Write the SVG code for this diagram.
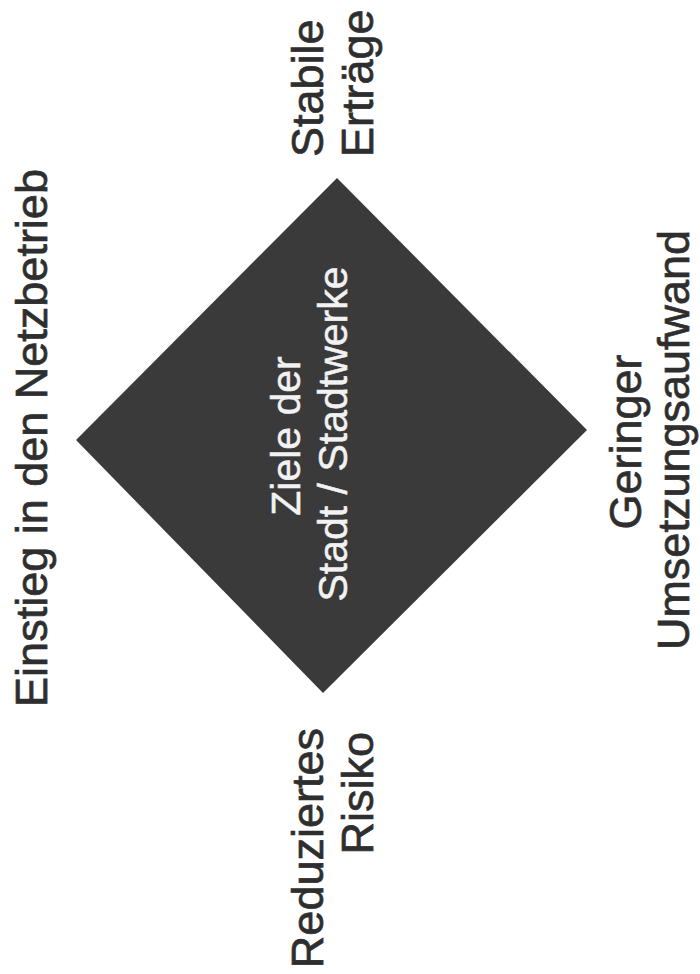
<svg xmlns="http://www.w3.org/2000/svg" width="700" height="974" viewBox="0 0 700 974">
<style>
.lbl{font-family:"Liberation Sans",Arial,sans-serif;font-size:45px;fill:#2e2e2e;stroke:#2e2e2e;stroke-width:0.7px;}
.ctr{font-family:"Liberation Sans",Arial,sans-serif;font-size:41px;fill:#f2f2f2;stroke:#f2f2f2;stroke-width:0.5px;text-anchor:middle;}
.mid{text-anchor:middle;}
.end{text-anchor:end;}
</style>
<rect x="0" y="0" width="700" height="974" fill="#ffffff"/>
<g id="diamond">
<polygon points="337,178 587,430 323,693 76,440" fill="#3a3a3a"/>
<text class="ctr" transform="translate(300,436) rotate(-90)">Ziele der</text>
<text class="ctr" transform="translate(347,434) rotate(-90)">Stadt / Stadtwerke</text>
</g>
<g id="einstieg">
<text class="lbl mid" transform="translate(47,438) rotate(-90)">Einstieg in den Netzbetrieb</text>
</g>
<g id="stabile">
<text class="lbl" transform="translate(323,157) rotate(-90)">Stabile</text>
<text class="lbl" transform="translate(373,157) rotate(-90)">Erträge</text>
</g>
<g id="risiko">
<text class="lbl end" transform="translate(323,728) rotate(-90)">Reduziertes</text>
<text class="lbl end" transform="translate(373,732) rotate(-90)">Risiko</text>
</g>
<g id="geringer">
<text class="lbl mid" transform="translate(641,442) rotate(-90)">Geringer</text>
<text class="lbl mid" transform="translate(689,440) rotate(-90)">Umsetzungsaufwand</text>
</g>
<g id="connectors"></g>
</svg>
